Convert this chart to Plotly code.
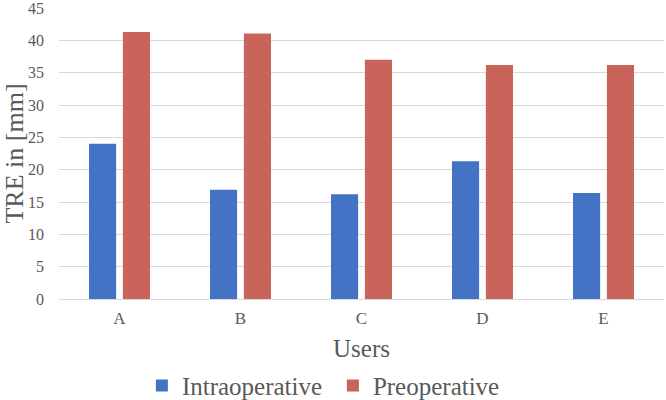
import plotly.graph_objects as go

users = ["A", "B", "C", "D", "E"]
intraoperative = [24.0, 16.9, 16.2, 21.3, 16.4]
preoperative = [41.3, 41.05, 37.0, 36.2, 36.2]
y_ticks = [0, 5, 10, 15, 20, 25, 30, 35, 40, 45]

FONT = "Liberation Serif"
GREY = "#595959"

fig = go.Figure()
fig.add_trace(go.Bar(x=users, y=intraoperative, name="Intraoperative",
                     marker=dict(color="#4472C4", line=dict(width=0))))
fig.add_trace(go.Bar(x=users, y=preoperative, name="Preoperative",
                     marker=dict(color="#C8645A", line=dict(width=0))))

fig.update_layout(
    width=666, height=400,
    margin=dict(l=59, r=2, t=8, b=101, autoexpand=False),
    paper_bgcolor="white", plot_bgcolor="white",
    barmode="group", bargap=0.44, bargroupgap=0.2,
    font=dict(family=FONT, color=GREY),
    showlegend=True,
    legend=dict(orientation="h", x=0.137, xanchor="left", y=-0.298, yanchor="middle",
                font=dict(size=25, family=FONT, color=GREY), itemwidth=30,
                entrywidth=146),
    xaxis=dict(
        automargin=False,
        showline=True, linecolor="#D9D9D9", linewidth=1,
        showgrid=False, ticks="", tickfont=dict(size=17, family=FONT, color=GREY),
        ticklabelstandoff=4,
        title=dict(text="Users", font=dict(size=25, family=FONT, color=GREY), standoff=12),
    ),
    yaxis=dict(
        automargin=False,
        range=[0, 45], tickvals=y_ticks, showgrid=True, gridcolor="#D9D9D9", gridwidth=1,
        zeroline=False, showline=False, ticks="", ticklabeloverflow="allow",
        tickfont=dict(size=16, family=FONT, color=GREY), ticklabelstandoff=14,
        title=dict(text="TRE in [mm]", font=dict(size=26, family=FONT, color=GREY), standoff=0),
    ),
)

fig.write_html("out.html", config={"displayModeBar": False},
               post_script="document.body.style.margin='0';")
